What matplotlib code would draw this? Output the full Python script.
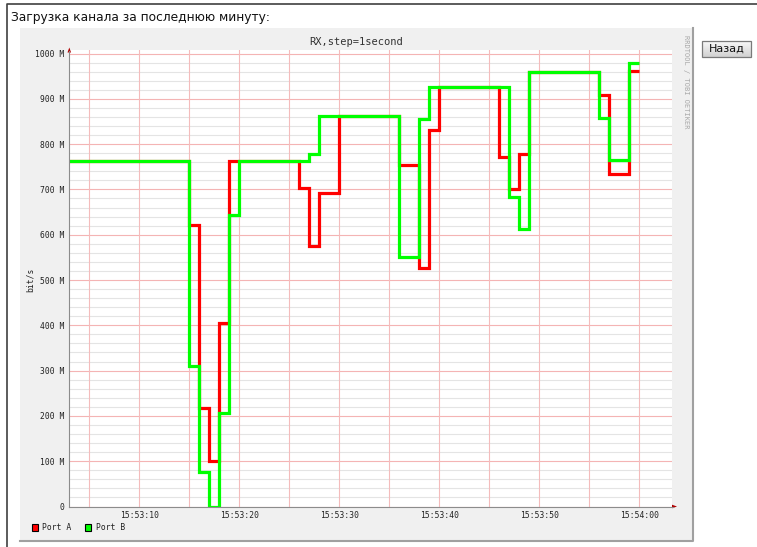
import numpy as np
import pandas as pd
import matplotlib
matplotlib.use("Agg")
import matplotlib.pyplot as plt
import matplotlib.dates as mdates
from matplotlib.patches import Rectangle, Polygon

plt.rcParams['font.family'] = ['DejaVu Sans Mono']

# RX traffic, Mbit/s, value holds from the given second until the next one
port_a_times = ["15:53:03", "15:53:15", "15:53:16", "15:53:17", "15:53:18", "15:53:19",
                "15:53:26", "15:53:27", "15:53:28", "15:53:30", "15:53:36", "15:53:38",
                "15:53:39", "15:53:40", "15:53:46", "15:53:47", "15:53:48", "15:53:49",
                "15:53:56", "15:53:57", "15:53:59"]
port_a_mbps = [762, 622, 218, 101, 406, 762, 702, 575, 691, 863, 754, 526,
               831, 925, 771, 701, 778, 960, 908, 735, 962]

port_b_times = ["15:53:03", "15:53:15", "15:53:16", "15:53:17", "15:53:18", "15:53:19",
                "15:53:20", "15:53:27", "15:53:28", "15:53:36", "15:53:38", "15:53:39",
                "15:53:47", "15:53:48", "15:53:49", "15:53:56", "15:53:57", "15:53:59"]
port_b_mbps = [762, 310, 76, 0, 207, 643, 762, 778, 863, 550, 855, 925,
               683, 612, 960, 857, 765, 978]

last_sample = "15:54:00"
y_ticks = [0, 100, 200, 300, 400, 500, 600, 700, 800, 900, 1000]
y_labels = ["0"] + [f"{v} M" for v in y_ticks[1:]]
series_names = ["Port A", "Port B"]
series_colors = ["#ff0000", "#00ff00"]

DAY = "2024-01-01 "


def to_dt(times):
    return list(pd.to_datetime([DAY + t for t in times]).to_pydatetime())


W, H = 757, 547
fig = plt.figure(figsize=(W / 100, H / 100), dpi=100)
fig.patch.set_facecolor("white")

# page layer in pixel coordinates
page = fig.add_axes([0, 0, 1, 1])
page.set_xlim(0, W)
page.set_ylim(H, 0)
page.axis("off")

page.plot([6.5, 6.5, W], [H, 3.5, 3.5], color="#404040", lw=1.2)
page.text(11, 18, "Загрузка канала за последнюю минуту:", family="DejaVu Sans",
          fontsize=8.8, va="center", ha="left", color="#111111")

# graph image background
page.add_patch(Rectangle((20, 28), 673, 513, fc="#f0f0f0", ec="none"))
page.plot([20, 693, 693], [541, 541, 28], color="#a0a0a0", lw=1.5)

page.text(356, 42, "RX,step=1second", fontsize=7.5, ha="center", va="center",
          color="#333333")
page.text(30, 280, "bit/s", fontsize=5.8, rotation=90, ha="center", va="center",
          color="#222222")
page.text(686, 35, "RRDTOOL / TOBI OETIKER", fontsize=5.0, rotation=270,
          ha="center", va="top", color="#a8a8a8")

# legend
for (lx, tx), name, col in zip([(32, 42), (85, 96)], series_names, series_colors):
    page.add_patch(Rectangle((lx, 524), 6, 7, fc=col, ec="#000000", lw=0.8))
    page.text(tx, 527.5, name, fontsize=5.8, ha="left", va="center", color="#222222")

# "back" button
grad = np.linspace(0.97, 0.82, 32).reshape(-1, 1)
page.imshow(grad, cmap="gray", vmin=0, vmax=1, extent=(702, 751, 57, 41),
            origin="upper", aspect="auto", zorder=1)
page.add_patch(Rectangle((702, 41), 49, 16, fc="none", ec="#7a7a7a", lw=0.9, zorder=2))
page.text(726.5, 49, "Назад", family="DejaVu Sans", fontsize=8, ha="center",
          va="center", color="#111111", zorder=3)
page.set_xlim(0, W)
page.set_ylim(H, 0)

# plot area
x0, x1, ytop, ybot = 69.3, 671.7, 50.3, 506.5
ax = fig.add_axes([x0 / W, 1 - ybot / H, (x1 - x0) / W, (ybot - ytop) / H])
ax.set_facecolor("white")
for s in ax.spines.values():
    s.set_visible(False)

t_start = to_dt(["15:53:03"])[0]
ax.set_xlim(t_start, t_start + pd.Timedelta(seconds=60.24).to_pytimedelta())
ax.set_ylim(0, 1000 * (ybot - ytop) / 453.0)

ax.set_yticks(y_ticks)
ax.set_yticklabels(y_labels)
ax.set_yticks(np.arange(0, 1001, 20), minor=True)
ax.xaxis.set_major_locator(mdates.SecondLocator(bysecond=[0, 10, 20, 30, 40, 50]))
ax.xaxis.set_minor_locator(mdates.SecondLocator(bysecond=[5, 15, 25, 35, 45, 55]))
ax.xaxis.set_major_formatter(mdates.DateFormatter("%H:%M:%S"))
ax.tick_params(which="both", length=0)
ax.tick_params(axis="y", pad=3.6, labelsize=5.8, labelcolor="#222222")
ax.tick_params(axis="x", pad=3.2, labelsize=5.8, labelcolor="#222222")

ax.yaxis.grid(True, which="minor", color="#e4e4e4", lw=0.8, zorder=0)
ax.yaxis.grid(True, which="major", color="#f4b4b4", lw=0.8, zorder=0)
ax.set_axisbelow(True)

# time grid every 5 seconds
for loc in list(ax.xaxis.get_majorticklocs()) + list(ax.xaxis.get_minorticklocs()):
    ax.axvline(loc, color="#f4bcbc", lw=0.8, zorder=1)

for times, vals, col in [(port_a_times, port_a_mbps, series_colors[0]),
                         (port_b_times, port_b_mbps, series_colors[1])]:
    tx = to_dt(times + [last_sample])
    ty = vals + [vals[-1]]
    ax.step(tx, ty, where="post", color=col, lw=2.3, solid_joinstyle="miter",
            solid_capstyle="butt", zorder=3)

# axis lines and arrows on top
over = fig.add_axes([0, 0, 1, 1], facecolor="none")
over.set_xlim(0, W)
over.set_ylim(H, 0)
over.axis("off")
over.plot([x0, x0], [ybot, 50.5], color="#8c8c8c", lw=0.8)
over.plot([x0, 673], [ybot, ybot], color="#8c8c8c", lw=0.8)
over.add_patch(Polygon([(x0 - 1.8, 52.5), (x0 + 1.8, 52.5), (x0, 47.5)],
                       closed=True, fc="#b00000", ec="none"))
over.add_patch(Polygon([(672, ybot - 1.8), (672, ybot + 1.8), (677, ybot)],
                       closed=True, fc="#b00000", ec="none"))

fig.savefig("out.png", dpi=100, facecolor="white")
